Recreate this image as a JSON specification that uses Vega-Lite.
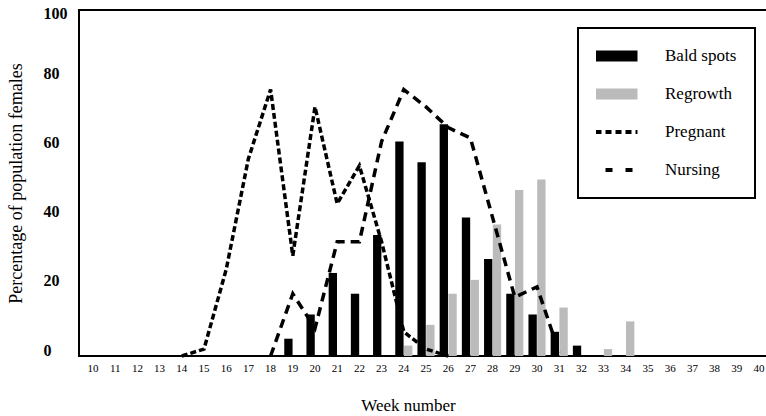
{
  "$schema": "https://vega.github.io/schema/vega-lite/v6.json",
  "width": 694,
  "height": 346,
  "autosize": {"type": "none"},
  "padding": {"left": 79, "top": 10, "right": 0, "bottom": 60},
  "background": "white",
  "config": {
    "font": "Liberation Serif",
    "view": {"stroke": "black", "strokeWidth": 2},
    "axis": {"grid": false, "ticks": false, "tickSize": 0, "domain": false, "labelColor": "black", "titleColor": "black", "titleFontWeight": "normal", "labelFont": "Liberation Serif", "titleFont": "Liberation Serif"}
  },
  "data": {
    "values": [
      {"week": 19, "series": "Bald spots", "value": 5},
      {"week": 20, "series": "Bald spots", "value": 12},
      {"week": 21, "series": "Bald spots", "value": 24},
      {"week": 22, "series": "Bald spots", "value": 18},
      {"week": 23, "series": "Bald spots", "value": 35},
      {"week": 24, "series": "Bald spots", "value": 62},
      {"week": 25, "series": "Bald spots", "value": 56},
      {"week": 26, "series": "Bald spots", "value": 67},
      {"week": 27, "series": "Bald spots", "value": 40},
      {"week": 28, "series": "Bald spots", "value": 28},
      {"week": 29, "series": "Bald spots", "value": 18},
      {"week": 30, "series": "Bald spots", "value": 12},
      {"week": 31, "series": "Bald spots", "value": 7},
      {"week": 32, "series": "Bald spots", "value": 3},
      {"week": 24, "series": "Regrowth", "value": 3},
      {"week": 25, "series": "Regrowth", "value": 9},
      {"week": 26, "series": "Regrowth", "value": 18},
      {"week": 27, "series": "Regrowth", "value": 22},
      {"week": 28, "series": "Regrowth", "value": 38},
      {"week": 29, "series": "Regrowth", "value": 48},
      {"week": 30, "series": "Regrowth", "value": 51},
      {"week": 31, "series": "Regrowth", "value": 14},
      {"week": 33, "series": "Regrowth", "value": 2},
      {"week": 34, "series": "Regrowth", "value": 10},
      {"week": 14, "series": "Pregnant", "value": 0},
      {"week": 15, "series": "Pregnant", "value": 2},
      {"week": 16, "series": "Pregnant", "value": 25},
      {"week": 17, "series": "Pregnant", "value": 57},
      {"week": 18, "series": "Pregnant", "value": 77},
      {"week": 19, "series": "Pregnant", "value": 29},
      {"week": 20, "series": "Pregnant", "value": 72},
      {"week": 21, "series": "Pregnant", "value": 44},
      {"week": 22, "series": "Pregnant", "value": 55},
      {"week": 23, "series": "Pregnant", "value": 33},
      {"week": 24, "series": "Pregnant", "value": 7},
      {"week": 25, "series": "Pregnant", "value": 2},
      {"week": 26, "series": "Pregnant", "value": 0},
      {"week": 18, "series": "Nursing", "value": 0},
      {"week": 19, "series": "Nursing", "value": 18},
      {"week": 20, "series": "Nursing", "value": 8},
      {"week": 21, "series": "Nursing", "value": 33},
      {"week": 22, "series": "Nursing", "value": 33},
      {"week": 23, "series": "Nursing", "value": 62},
      {"week": 24, "series": "Nursing", "value": 77},
      {"week": 25, "series": "Nursing", "value": 72},
      {"week": 26, "series": "Nursing", "value": 66},
      {"week": 27, "series": "Nursing", "value": 63},
      {"week": 28, "series": "Nursing", "value": 40},
      {"week": 29, "series": "Nursing", "value": 17},
      {"week": 30, "series": "Nursing", "value": 20},
      {"week": 31, "series": "Nursing", "value": 1}
    ]
  },
  "encoding": {
    "x": {
      "field": "week",
      "type": "ordinal",
      "scale": {"domain": [10,11,12,13,14,15,16,17,18,19,20,21,22,23,24,25,26,27,28,29,30,31,32,33,34,35,36,37,38,39,40], "paddingInner": 0.23, "paddingOuter": 0.245},
      "axis": {"title": "Week number", "labelAngle": 0, "labelFontSize": 11, "labelPadding": 6, "titleFontSize": 17, "titlePadding": 24, "titleX": 329}
    },
    "y": {
      "field": "value",
      "type": "quantitative",
      "scale": {"domain": [0, 100], "nice": false},
      "axis": {"title": "Percentage of population females", "values": [0, 20, 40, 60, 80, 100], "labelAlign": "left", "labelPadding": 36, "labelOffset": {"condition": {"test": "datum.value === 100", "value": 3}, "value": -6}, "labelFontSize": 16, "labelFontWeight": "bold", "titleFontSize": 18, "titlePadding": 18}
    },
    "color": {
      "field": "series",
      "type": "nominal",
      "scale": {"domain": ["Bald spots", "Regrowth", "Pregnant", "Nursing"], "range": ["#000000", "#bbbbbb", "#000000", "#000000"]},
      "legend": {
        "title": null,
        "orient": "top-right",
        "offset": 18,
        "padding": 18,
        "rowPadding": 18,
        "clipHeight": 20,
        "strokeColor": "black",
        "fillColor": "white",
        "symbolType": "stroke",
        "symbolSize": 2704,
        "symbolOffset": 7,
        "labelFontSize": 17,
        "labelFont": "Liberation Serif",
        "labelColor": "black",
        "labelOffset": 45,
        "labelLimit": 200,
        "encode": {
          "legend": {"update": {"strokeWidth": {"value": 2}}},
          "symbols": {
            "update": {
              "strokeWidth": {"signal": "datum.value === 'Bald spots' || datum.value === 'Regrowth' ? 11 : 4"},
              "strokeDash": {"signal": "datum.value === 'Pregnant' ? [6, 4] : datum.value === 'Nursing' ? [7, 13] : [100, 0]"},
              "stroke": {"signal": "datum.value === 'Regrowth' ? '#bbbbbb' : '#000000'"},
              "opacity": {"value": 1}
            }
          }
        }
      }
    }
  },
  "layer": [
    {
      "transform": [{"filter": "datum.series === 'Bald spots' || datum.series === 'Regrowth'"}],
      "mark": {"type": "bar"},
      "encoding": {
        "xOffset": {"field": "series", "type": "nominal", "scale": {"domain": ["Bald spots", "Regrowth"], "paddingInner": 0.05}}
      }
    },
    {
      "transform": [{"filter": "datum.series === 'Pregnant'"}],
      "mark": {"type": "line", "strokeWidth": 3.5, "strokeDash": [6, 3]}
    },
    {
      "transform": [{"filter": "datum.series === 'Nursing'"}],
      "mark": {"type": "line", "strokeWidth": 3.5, "strokeDash": [9, 6]}
    }
  ]
}
